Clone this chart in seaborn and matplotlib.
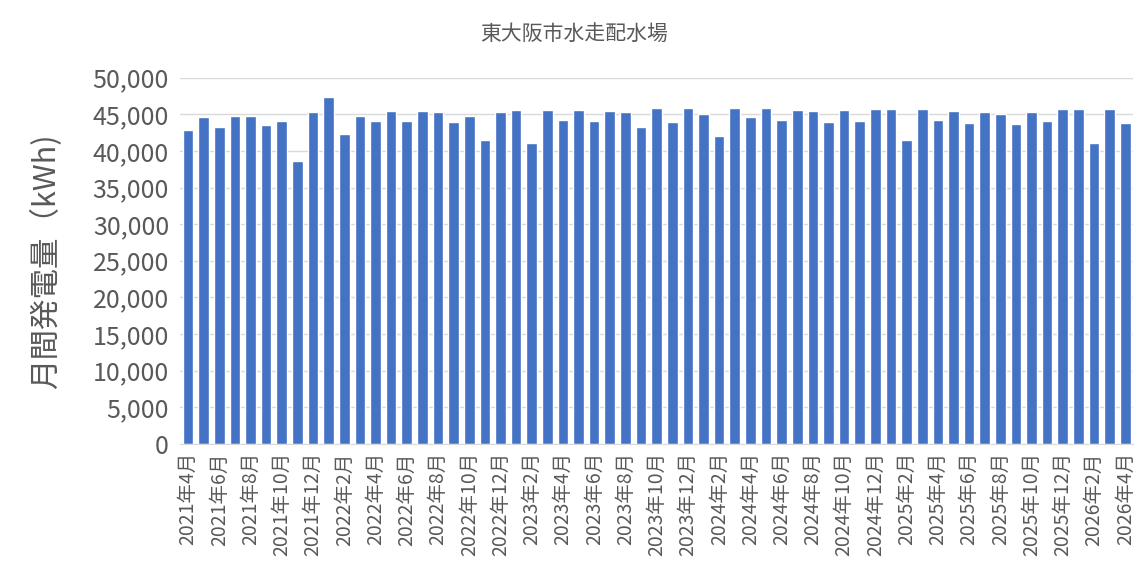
import matplotlib
matplotlib.use('Agg')
import matplotlib.pyplot as plt
import seaborn as sns
import pandas as pd
from matplotlib.ticker import FuncFormatter

months = [f'{2021 + (3 + i) // 12}年{(3 + i) % 12 + 1}月' for i in range(61)]
values = [42800, 44600, 43250, 44730, 44730, 43500, 44050, 38650, 45270, 47300,
          42300, 44730, 44050, 45400, 44050, 45400, 45270, 43900, 44730, 41500,
          45270, 45540, 41100, 45540, 44200, 45540, 44050, 45400, 45270, 43250,
          45800, 43900, 45800, 45000, 42000, 45800, 44600, 45800, 44200, 45540,
          45400, 43900, 45540, 44050, 45670, 45670, 41500, 45670, 44200, 45400,
          43800, 45270, 45000, 43650, 45270, 44050, 45670, 45670, 41100, 45670,
          43800]

df = pd.DataFrame({'month': months, 'kwh': values})

sns.set_style('white')
plt.rcParams['font.family'] = ['Noto Sans CJK JP', 'DejaVu Sans']

fig = plt.figure(figsize=(11.48, 5.84), dpi=100)
ax = fig.add_axes([0.157, 0.24, 0.83, 0.627])
sns.barplot(data=df, x='month', y='kwh', color='#4472C4', saturation=1, width=0.68, ax=ax)

ax.set_ylim(0, 50000)
ax.set_yticks(range(0, 50001, 5000))
ax.yaxis.set_major_formatter(FuncFormatter(lambda v, p: f'{int(v):,}'))
ax.yaxis.grid(True, color='#D9D9D9', linewidth=1)
ax.set_axisbelow(True)
ax.set_xlim(-0.5, 60.5)
ax.set_xticks(range(0, 61, 2))
ax.set_xticklabels(months[::2], rotation=90, fontsize=14, color='#595959')
ax.tick_params(axis='y', labelsize=18, colors='#595959', length=0, pad=8)
ax.tick_params(axis='x', length=0, pad=6)
for s in ['top', 'right', 'left']:
    ax.spines[s].set_visible(False)
ax.spines['bottom'].set_color('#D9D9D9')
ax.set_xlabel('')
ax.set_ylabel('月間発電量（kWh)', fontsize=22, color='#595959', labelpad=22)
fig.text(0.5, 0.94, '東大阪市水走配水場', ha='center', va='center', fontsize=15, color='#595959')

fig.savefig('out.png', dpi=100)
